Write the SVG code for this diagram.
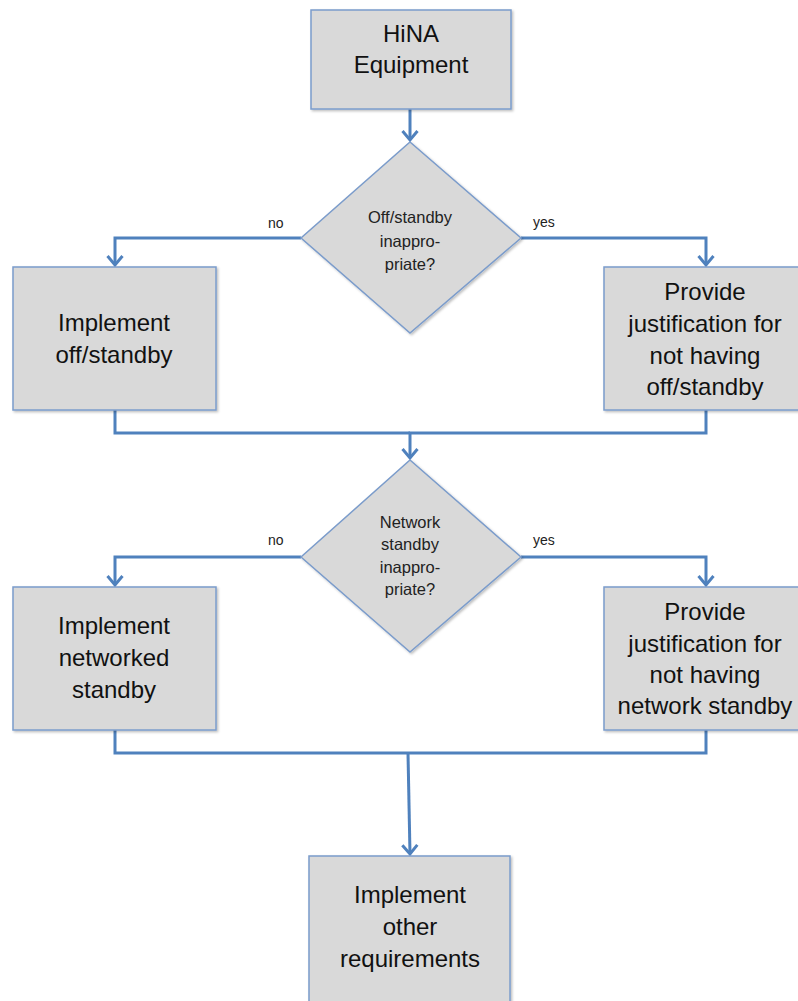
<svg xmlns="http://www.w3.org/2000/svg" width="798" height="1001" viewBox="0 0 798 1001">
<style>
.box{fill:#d9d9d9;stroke:#7b9ccb;stroke-width:1.5;filter:url(#sh)}
.t{font-family:"Liberation Sans",Arial,sans-serif;font-size:24px;fill:#111;text-anchor:middle}
.d{font-family:"Liberation Sans",Arial,sans-serif;font-size:16.5px;fill:#222;text-anchor:middle}
.l{font-family:"Liberation Sans",Arial,sans-serif;font-size:14px;fill:#222}
.c{fill:none;stroke:#4f81bd;stroke-width:3;stroke-linejoin:miter}
.a{marker-end:url(#arr)}
</style>
<defs>
<filter id="sh" x="-10%" y="-10%" width="120%" height="120%">
<feDropShadow dx="1.5" dy="1.5" stdDeviation="1.2" flood-color="#000" flood-opacity="0.25"/>
</filter>
<marker id="arr" markerUnits="userSpaceOnUse" viewBox="-12 -10 14 20" markerWidth="14" markerHeight="20" refX="0" refY="0" orient="auto" overflow="visible">
<path d="M-9,-7.5 L0,0 L-9,7.5" fill="none" stroke="#4f81bd" stroke-width="3"/>
</marker>
</defs>
<rect width="798" height="1001" fill="#fff"/>
<g id="connectors">
<path class="c a" d="M410,109 L410,140"/>
<path class="c a" d="M301,238 L115,238 L115,265"/>
<path class="c a" d="M521,238 L706,238 L706,265"/>
<path class="c" d="M115,410 L115,433 L410,433"/>
<path class="c a" d="M706,410 L706,433 L410,433 L410,458"/>
<path class="c a" d="M301,557 L115,557 L115,585"/>
<path class="c a" d="M521,557 L706,557 L706,585"/>
<path class="c" d="M115,730 L115,753 L408,753"/>
<path class="c" d="M706,730 L706,753 L408,753"/>
<path class="c a" d="M408,753 L410,854"/>
<text class="l" x="268" y="228">no</text>
<text class="l" x="533" y="227">yes</text>
<text class="l" x="268" y="545">no</text>
<text class="l" x="533" y="545">yes</text>
</g>
<g id="hina">
<rect class="box" x="311" y="10" width="200" height="99"/>
<text class="t" x="411" y="42">HiNA</text>
<text class="t" x="411" y="73">Equipment</text>
</g>
<g id="decision1">
<polygon class="box" points="410,142 521,238 410,333 301,238"/>
<text class="d" x="410" y="223">Off/standby</text>
<text class="d" x="410" y="247">inappro-</text>
<text class="d" x="410" y="270">priate?</text>
</g>
<g id="implement-off">
<rect class="box" x="13" y="267" width="203" height="143"/>
<text class="t" x="114" y="331">Implement</text>
<text class="t" x="114" y="363">off/standby</text>
</g>
<g id="justify-off">
<rect class="box" x="604" y="267" width="204" height="143"/>
<text class="t" x="705" y="300">Provide</text>
<text class="t" x="705" y="332">justification for</text>
<text class="t" x="705" y="364">not having</text>
<text class="t" x="705" y="395">off/standby</text>
</g>
<g id="decision2">
<polygon class="box" points="410,460 521,557 410,652 301,557"/>
<text class="d" x="410" y="528">Network</text>
<text class="d" x="410" y="550">standby</text>
<text class="d" x="410" y="573">inappro-</text>
<text class="d" x="410" y="595">priate?</text>
</g>
<g id="implement-networked">
<rect class="box" x="13" y="587" width="203" height="143"/>
<text class="t" x="114" y="634">Implement</text>
<text class="t" x="114" y="666">networked</text>
<text class="t" x="114" y="698">standby</text>
</g>
<g id="justify-network">
<rect class="box" x="604" y="587" width="204" height="143"/>
<text class="t" x="705" y="620">Provide</text>
<text class="t" x="705" y="652">justification for</text>
<text class="t" x="705" y="683">not having</text>
<text class="t" x="705" y="714">network standby</text>
</g>
<g id="implement-other">
<rect class="box" x="309" y="856" width="201" height="160"/>
<text class="t" x="410" y="903">Implement</text>
<text class="t" x="410" y="935">other</text>
<text class="t" x="410" y="967">requirements</text>
</g>
</svg>
